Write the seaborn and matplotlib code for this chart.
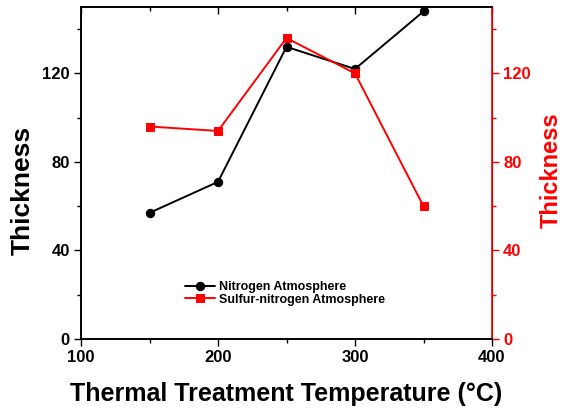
import matplotlib
matplotlib.use("Agg")
import matplotlib.pyplot as plt
import seaborn as sns
import pandas as pd
from matplotlib.ticker import MultipleLocator

sns.set_style("ticks")
plt.rcParams['font.family'] = ['Liberation Sans', 'DejaVu Sans']
plt.rcParams['font.weight'] = 'bold'
plt.rcParams['text.color'] = 'black'
plt.rcParams['axes.labelcolor'] = 'black'
plt.rcParams['xtick.color'] = 'black'
plt.rcParams['ytick.color'] = 'black'
plt.rcParams['axes.edgecolor'] = 'black'

temps = [150, 200, 250, 300, 350]
nitrogen = [57, 71, 132, 122, 148]
sulfur_nitrogen = [96, 94, 136, 120, 60]
x_ticks = [100, 200, 300, 400]
y_ticks = [0, 40, 80, 120]

df_n = pd.DataFrame({"T": temps, "v": nitrogen})
df_s = pd.DataFrame({"T": temps, "v": sulfur_nitrogen})

W, H = 571, 408
fig = plt.figure(figsize=(W / 100, H / 100), dpi=100)
ax = fig.add_axes([81/W, 1-339/H, (492-81)/W, (339-7)/H])
ax2 = ax.twinx()

sns.lineplot(data=df_n, x="T", y="v", ax=ax, color="black", marker="o",
             markersize=6, linewidth=1.4, markeredgecolor="black",
             label="Nitrogen Atmosphere", legend=False)
sns.lineplot(data=df_s, x="T", y="v", ax=ax2, color="#ff0000", marker="s",
             markersize=5.5, linewidth=1.4, markeredgecolor="#ff0000",
             label="Sulfur-nitrogen Atmosphere", legend=False)

for a in (ax, ax2):
    a.set_xlim(100, 400)
    a.set_ylim(0, 150)
    a.set_yticks(y_ticks)
    a.yaxis.set_minor_locator(MultipleLocator(20))
ax.set_xticks(x_ticks)
ax.xaxis.set_minor_locator(MultipleLocator(50))

ax.tick_params(axis='both', which='major', length=5, width=1, labelsize=12,
               direction='out', pad=3)
ax.tick_params(axis='both', which='minor', length=3, width=1, direction='out')
ax.tick_params(axis='x', which='both', top=True)
for t in ax.xaxis.get_major_ticks() + ax.xaxis.get_minor_ticks():
    t.tick2line.set_marker(3)
for lab in ax.get_xticklabels() + ax.get_yticklabels():
    lab.set_fontweight('bold')

ax2.tick_params(axis='y', which='major', length=5, width=1, labelsize=12,
                colors='#ff0000', direction='out', pad=3)
ax2.tick_params(axis='y', which='minor', length=3, width=1, colors='#ff0000',
                direction='out')
for lab in ax2.get_yticklabels():
    lab.set_fontweight('bold')
ax2.spines['right'].set_color('#ff0000')
for s in ['left', 'bottom', 'top']:
    ax.spines[s].set_linewidth(1.2)
    ax2.spines[s].set_linewidth(1.2)
ax2.spines['right'].set_linewidth(1.2)

ax.set_xlabel("Thermal Treatment Temperature (°C)", fontsize=18, fontweight='bold')
ax.xaxis.set_label_coords(0.5, (339 - 401) / 332, transform=ax.transAxes)
ax.xaxis.label.set_va('baseline')
ax.set_ylabel("Thickness", fontsize=19, fontweight='bold')
ax.yaxis.set_label_coords((23 - 81) / 411, (339 - 190) / 332)
ax.yaxis.label.set_va('center')
ax2.set_ylabel("Thickness", fontsize=17, fontweight='bold', color='#ff0000')
ax2.yaxis.set_label_coords((551 - 81) / 411, (339 - 170) / 332)
ax2.yaxis.label.set_va('center')

h1, l1 = ax.get_legend_handles_labels()
h2, l2 = ax2.get_legend_handles_labels()
leg = ax.legend(h1 + h2, l1 + l2, loc='upper left',
                bbox_to_anchor=(185/W, 1-281/H), bbox_transform=fig.transFigure,
                frameon=False, prop={'weight': 'bold', 'size': 9},
                handlelength=2.4, handletextpad=0.3, labelspacing=0.05,
                borderpad=0, borderaxespad=0)

fig.savefig("out.png", dpi=100)
